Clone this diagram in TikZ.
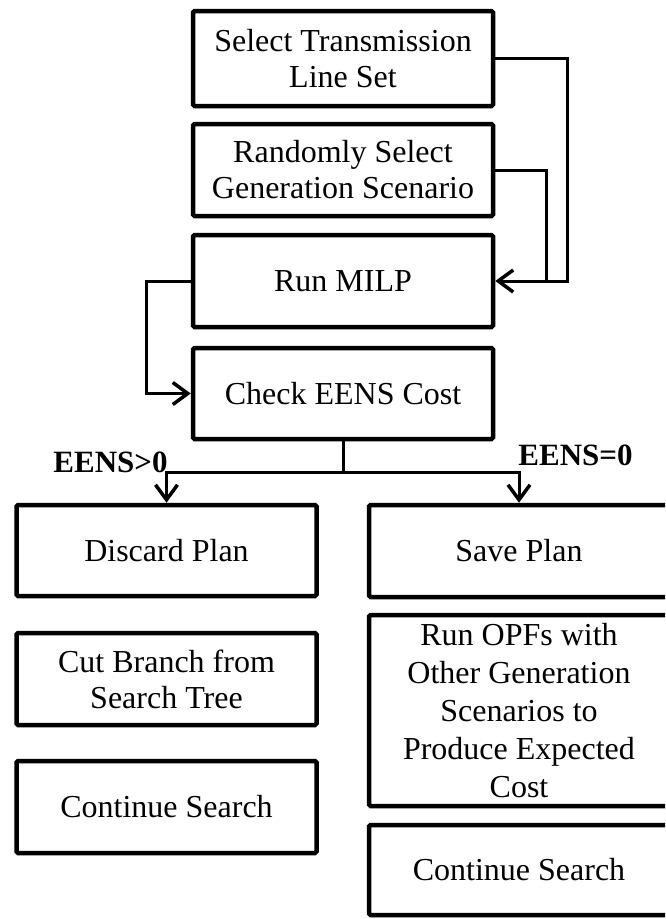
\documentclass[tikz,border=0pt]{standalone}
\usepackage{fontspec}
\setmainfont{Liberation Serif}
\usetikzlibrary{arrows.meta}
\begin{document}
\begin{tikzpicture}[x=1pt,y=-1pt,
  box/.style={draw, line width=4.5pt, rounded corners=1.5pt, rectangle, inner sep=0pt,
    minimum width=300pt, align=center,
    font=\fontsize{32}{36}\selectfont},
  conn/.style={line width=3pt},
  arr/.style={conn, -{Straight Barb[length=15pt,width=22pt,line width=3.5pt]}},
  lbl/.style={font=\fontsize{31}{36}\selectfont\bfseries, inner sep=0pt, anchor=base}
]
\useasboundingbox (0,0) rectangle (665,919);
\clip (0,0) rectangle (665,919);

\node[box, minimum height=95pt] (sel) at (343,58.5) {Select Transmission\\Line Set};
\node[box, minimum height=92pt] (rnd) at (343,170) {Randomly Select\\Generation Scenario};
\node[box, minimum height=92pt] (milp) at (343,281) {Run MILP};
\node[box, minimum height=91pt] (chk) at (343,393.5) {Check EENS Cost};

\node[box, minimum height=91pt] (disc) at (166.5,550.5) {Discard Plan};
\node[box, minimum height=92pt] (cut) at (166.5,679) {Cut Branch from\\Search Tree};
\node[box, minimum height=92pt] (contl) at (166.5,807) {Continue Search};

\node[box, minimum height=92pt] (save) at (519,551) {Save Plan};
\node[box, minimum height=191pt, font=\fontsize{32}{38}\selectfont] (opf) at (519,710.5) {Run OPFs with\\Other Generation\\Scenarios to\\Produce Expected\\Cost};
\node[box, minimum height=90pt] (contr) at (519,870) {Continue Search};

% feedback connectors into Run MILP
\coordinate (jr) at (546,281);
\draw[conn] (sel.east) -| (567,281) -- (jr);
\draw[conn] (rnd.east) -| (jr);
\draw[arr] (jr) -- (milp.east);

% Run MILP to Check EENS
\draw[arr] (milp.west) -| (146,393.5) -- (chk.west);

% branch
\coordinate (br) at (343,472);
\draw[conn] (chk.south) -- (br);
\draw[arr] (br) -| (disc.north);
\draw[arr] (br) -| (save.north);

\node[lbl] (lgt) at (110.5,472) {EENS>0};
\node[lbl] (leq) at (575.5,465) {EENS=0};
\end{tikzpicture}
\end{document}
